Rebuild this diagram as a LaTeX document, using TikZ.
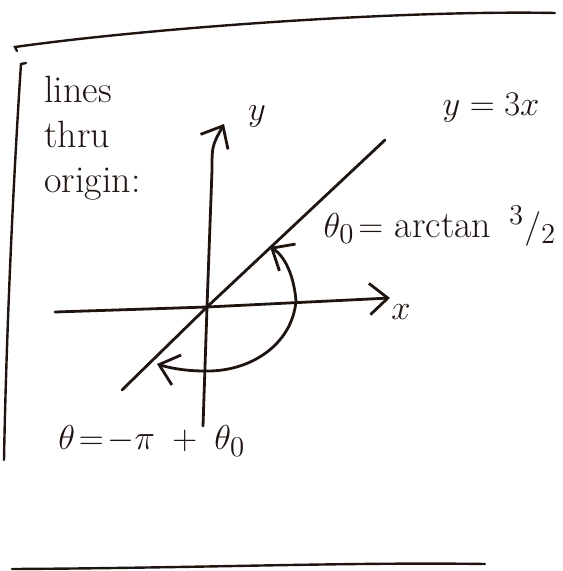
\documentclass[tikz,border=0pt]{standalone}
\usepackage{amsmath}
\usepackage{xcolor}
\usepackage{tikz}
\usetikzlibrary{arrows.meta}
\definecolor{skink}{RGB}{30,20,16}
\tikzset{
  pen/.style={draw=skink, line width=1.4pt, line cap=round, line join=round},
  barb/.style={pen, -{Straight Barb[length=3.2mm,width=5.5mm]}},
  twobarb/.style={pen, {Straight Barb[length=3.2mm,width=5.5mm]}-{Straight Barb[length=3.2mm,width=5.5mm]}},
  frame/.style={draw=skink, line width=1.2pt, line cap=round},
  lbl/.style={text=skink, inner sep=0pt, font=\fontsize{19}{22.5}\selectfont}
}

\begin{document}
\begin{tikzpicture}[x=0.5pt, y=-0.5pt]
  \useasboundingbox (0,0) rectangle (562,571);
  % page edges
  \draw[frame] (17,51) -- (15,47) .. controls (150,28) and (400,10) .. (555,13);
  \draw[frame] (26,63) -- (21,64) .. controls (12,200) and (6,350) .. (4,460);
  \draw[frame] (12,569) .. controls (200,568) and (350,562) .. (485,564);
  % points
  \coordinate (o) at (207,307);
  \coordinate (xl) at (55,312);
  \coordinate (xr) at (390,298);
  \coordinate (yb) at (203,426);
  \coordinate (yk) at (212,170);
  \coordinate (yt) at (224,124);
  \coordinate (ll) at (122,390);
  \coordinate (lu) at (385,140);
  \coordinate (a0) at (296,301);
  \coordinate (a1) at (270,247);
  \coordinate (a2) at (157,364);
  \coordinate (a3) at (205,371);
  % axes and line
  \draw[barb] (xl) -- (o) -- (xr);
  \draw[barb] (yb) -- (o) -- (yk) .. controls (212,146) .. (yt);
  \draw[pen] (ll) -- (o) -- (lu);
  % angle
  \draw[twobarb] (a1) .. controls (285,256) and (294,276) .. (a0)
    .. controls (292,345) and (250,372) .. (a3)
    .. controls (185,371) and (170,368) .. (a2);
  % labels
  \node[lbl, anchor=north west, align=left] (note) at (44,76) {lines\\thru\\origin:};
  \node[lbl] (ylab) at (257,116) {$y$};
  \node[lbl] (xlab) at (401,312) {$x$};
  \node[lbl] (line) at (491,108) {$y=3x$};
  \node[lbl] (th0) at (440,226) {$\theta_0\!=$ arctan\, $^{3}/_{2}$};
  \node[lbl, anchor=west] (th) at (58,441) {$\theta\!=\!-\pi\;+\;\theta_0$};
\end{tikzpicture}
\end{document}
